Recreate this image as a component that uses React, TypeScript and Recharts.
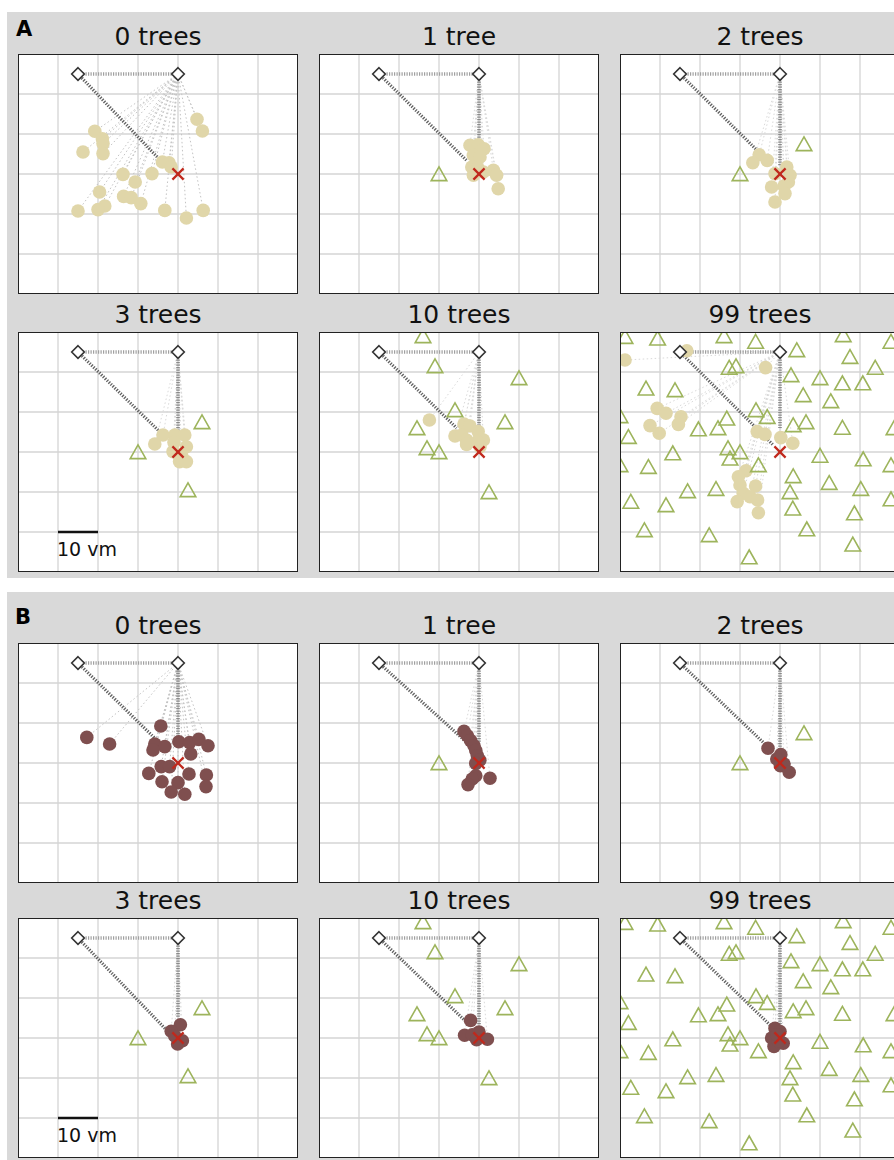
import React from 'react';
import { ScatterChart, Scatter, XAxis, YAxis, CartesianGrid, ReferenceLine } from 'recharts';

type P = [number, number];

// Common landmarks (vm units, y measured downward)
const startPt: P = [15, 5];
const turnPt: P = [40, 5];
const goalPt: P = [40, 30];
const xTicks = [10, 20, 30, 40, 50, 60];
const yTicks = [10, 20, 30, 40, 50];
const scaleBar: P[] = [[10, 50], [20, 50]];

// Trees (triangles) per condition
const trees1: P[] = [[30, 30]];
const trees2: P[] = [[30, 30], [46, 22.5]];
const trees3: P[] = [[30, 30], [46, 22.5], [42.5, 39.5]];
const trees10: P[] = [[26, 1], [29, 8.5], [50, 11.5], [34, 19.5], [46.5, 22.5], [24.5, 24], [27, 29], [30, 30], [42.5, 40]];
const trees99: P[] = [
  [1.25, 1.2], [9.4, 1.6], [26, 1], [33.9, 2.4], [44.2, 4.5], [55.8, 0.75], [67.75, 2.4], [57.5, 6.2],
  [27.3, 8.9], [29, 8.5], [42.75, 10.75], [50, 11.5], [55.6, 12.8], [60.7, 12.8], [63.8, 8.9], [6.5, 14.1],
  [13.75, 14.5], [45.8, 15.75], [52.7, 17.25], [0, 21], [2.1, 26.2], [19.6, 24.3], [24.5, 24], [26.7, 21.6],
  [34, 19.5], [36.8, 21.2], [43.3, 23.25], [46.5, 22.5], [55.6, 23.9], [13.2, 30.3], [7.1, 33.7], [0, 33.25],
  [27, 29], [30, 30], [27.5, 31.6], [34.6, 33.25], [50, 30.9], [60.8, 31.8], [67.75, 33.25], [43.3, 36],
  [52.3, 37.7], [42.5, 40], [60.2, 39.2], [67.75, 41.8], [16.9, 39.75], [24, 39.2], [2.7, 42.4], [11.5, 43.25],
  [43.2, 44.1], [58.6, 45.3], [6.1, 49.5], [22.3, 50.75], [46.7, 49.3], [58.2, 53.1], [32.3, 56.3], [68.5, 24],
];

// Endpoints (circles), model A
const endA0: P[] = [[44.75, 16.3], [46.1, 19.25], [19.2, 19.3], [21.1, 21.2], [21.25, 22.4], [16.25, 24.5], [21.25, 24.9], [36.1, 27], [37.75, 27.2], [38.3, 28.25], [33.5, 29.9], [26.25, 30.1], [29.3, 32], [20.4, 34.5], [26.4, 35.6], [28.3, 35.9], [30.7, 37.4], [21.7, 38], [20, 38.9], [15, 39.25], [36.7, 39.1], [46.3, 39.1], [42.1, 41]];
const endA1: P[] = [[37.75, 22.8], [39.8, 22.7], [41.25, 23.7], [38.6, 25.3], [40.25, 25.75], [38.2, 28.25], [39.75, 28.5], [41.1, 29.5], [43.6, 29.1], [44.4, 30.3], [38.6, 30.3], [44.8, 33.7]];
const endA2: P[] = [[34.8, 25.2], [33.2, 27.2], [36.8, 26.6], [41.7, 28.25], [38.75, 29.9], [42.5, 30.3], [42.1, 32], [41, 33], [37.9, 33.25], [41.25, 34.9], [38.75, 37]];
const endA3: P[] = [[34.2, 28], [36.25, 25.75], [39.2, 25.75], [41.7, 25.75], [39, 27.6], [42.1, 28.7], [38.75, 29.9], [40.9, 30.75], [40.4, 32.4], [42.1, 32.4]];
const endA10: P[] = [[27.6, 22], [36.25, 23], [37.75, 23.5], [34, 26], [35.7, 25.75], [36.9, 27], [39.8, 24.9], [41.1, 27], [39.6, 27.4], [36.9, 28.1], [40.25, 28.7]];
const endA99: P[] = [[16.7, 4.7], [1.25, 7], [36.4, 8.9], [9.3, 19.1], [11.5, 20.3], [15.25, 21.2], [7.5, 23.4], [14.6, 23.1], [9.8, 25.3], [34.3, 24.9], [36.25, 25.6], [40.2, 26.4], [43.2, 27.8], [31.5, 34.7], [29.6, 36.2], [30, 38.25], [33.9, 38.5], [30.8, 40.3], [32.5, 41.2], [34.4, 42], [29.3, 42.4], [34.6, 45.2]];

// Endpoints (circles), model B
const endB0: P[] = [[35.7, 20.75], [17.2, 23.6], [22.9, 25.25], [34.2, 25.25], [36.7, 25.9], [33.75, 26.75], [40.2, 24.7], [42.9, 24.9], [45.2, 24.1], [47.5, 25.7], [43.2, 27.75], [35.8, 30.9], [37.9, 30.9], [32.7, 32.6], [42.75, 32.75], [47.1, 33], [36, 34.7], [40, 34.9], [47, 35.9], [38.3, 37.25], [41.7, 37.8]];
const endB1: P[] = [[36.25, 22.1], [37.1, 23.2], [37.9, 24.4], [38.75, 25.7], [39.2, 26.9], [39.6, 28.2], [40.2, 29.3], [39.2, 30.1], [39.2, 33.2], [38.3, 34], [37.25, 35.4], [42.75, 33.8]];
const endB2: P[] = [[37, 26.3], [40.2, 27.9], [39.2, 29], [41, 30.25], [40.1, 30.7], [42.3, 32.3]];
const endB3: P[] = [[40.6, 26.7], [38.3, 28.3], [39.2, 29.5], [41.1, 30.7], [39.9, 31.5]];
const endB10: P[] = [[37.9, 25.6], [36.4, 29.3], [38.3, 29.2], [40, 28.5], [39.4, 30.4], [42.1, 30.3]];
const endB99: P[] = [[38.75, 27.6], [40, 28.4], [37.9, 30], [40.8, 31.3], [38.5, 32.1], [39.6, 30.8], [39.2, 29.2]];

// Ends of the mean (heavy dotted) paths
const diagEndsA: P[] = [[36, 27], [36.9, 26.6], [34.2, 24], [35.8, 25.3], [34.4, 24], [38.3, 28.25]];
const vertEndsA: (P | null)[] = [null, [40, 25], [40, 28], [40, 25], [40, 24], [40, 24]];
const diagEndsB: P[] = [[34.2, 23.8], [38.3, 26.1], [36.7, 25.7], [37.5, 28.4], [36.75, 25.9], [37.5, 26.75]];
const vertEndsB: (P | null)[] = [[40, 25], [40, 25], [40, 27.8], [40, 25], [40, 26.75], [40, 26.75]];

const titles = ['0 trees', '1 tree', '2 trees', '3 trees', '10 trees', '99 trees'];
const treesByPanel = [[], trees1, trees2, trees3, trees10, trees99] as P[][];
const endsA = [endA0, endA1, endA2, endA3, endA10, endA99];
const endsB = [endB0, endB1, endB2, endB3, endB10, endB99];

const colLefts = [18, 319, 620];
const FONT = '"DejaVu Sans", sans-serif';
const toObj = (arr: P[]) => arr.map(([x, y]) => ({ x, y }));

const Circle = (color: string) => (p: any) => <circle cx={p.cx} cy={p.cy} r={6.8} fill={color} />;
const Tri = (p: any) => (
  <polygon points={`${p.cx},${p.cy - 7.2} ${p.cx + 7.8},${p.cy + 6.6} ${p.cx - 7.8},${p.cy + 6.6}`} fill="none" stroke="#9db45c" strokeWidth={1.6} />
);
const Diamond = (p: any) => (
  <polygon points={`${p.cx},${p.cy - 6.3} ${p.cx + 6.3},${p.cy} ${p.cx},${p.cy + 6.3} ${p.cx - 6.3},${p.cy}`} fill="white" stroke="#333" strokeWidth={1.6} />
);
const Cross = (p: any) => (
  <g stroke="#c0281c" strokeWidth={2.2}>
    <line x1={p.cx - 5.6} y1={p.cy - 5.6} x2={p.cx + 5.6} y2={p.cy + 5.6} />
    <line x1={p.cx - 5.6} y1={p.cy + 5.6} x2={p.cx + 5.6} y2={p.cy - 5.6} />
  </g>
);

interface PanelProps {
  left: number; top: number; title: string; ends: P[]; color: string; trees: P[];
  diag: P; vert: P | null; scale: boolean; fan: boolean;
}

function Panel({ left, top, title, ends, color, trees, diag, vert, scale, fan }: PanelProps) {
  return (
    <>
      <div style={{ position: 'absolute', left, top: top - 32.5, width: 280, height: 30, lineHeight: '30px', fontSize: 25, fontFamily: FONT, textAlign: 'center', color: '#111' }}>{title}</div>
      <div style={{ position: 'absolute', left, top, width: 280, height: 240, overflow: 'hidden', background: 'white' }}>
        <ScatterChart width={280} height={240} margin={{ top: 0, right: 0, bottom: 0, left: 0 }}>
          <XAxis type="number" dataKey="x" domain={[0, 70]} ticks={xTicks} hide />
          <YAxis type="number" dataKey="y" domain={[0, 60]} ticks={yTicks} reversed hide />
          <CartesianGrid stroke="#d4d4d4" strokeWidth={1.3} />
          {ends.map(([x, y], i) => (
            <ReferenceLine key={'l' + i} segment={[{ x: turnPt[0], y: turnPt[1] }, { x, y }]} stroke={fan ? '#c4c4c4' : '#dadada'} strokeWidth={1} strokeDasharray="1.5 2.5" />
          ))}
          <ReferenceLine segment={[{ x: startPt[0], y: startPt[1] }, { x: turnPt[0], y: turnPt[1] }]} stroke="#a0a0a0" strokeWidth={3.6} strokeDasharray="1.2 1.3" />
          <ReferenceLine segment={[{ x: startPt[0], y: startPt[1] }, { x: diag[0], y: diag[1] }]} stroke="#606060" strokeWidth={3.2} strokeDasharray="1.3 1.4" />
          {vert && (
            <ReferenceLine segment={[{ x: turnPt[0], y: turnPt[1] }, { x: vert[0], y: vert[1] }]} stroke="#8a8a8a" strokeWidth={3.6} strokeDasharray="1.2 1.3" />
          )}
          {scale && (
            <ReferenceLine segment={[{ x: scaleBar[0][0], y: scaleBar[0][1] }, { x: scaleBar[1][0], y: scaleBar[1][1] }]} stroke="#111" strokeWidth={2.5} />
          )}
          <Scatter data={toObj(ends)} shape={Circle(color)} isAnimationActive={false} />
          <Scatter data={toObj(trees)} shape={Tri} isAnimationActive={false} />
          <Scatter data={toObj([startPt, turnPt])} shape={Diamond} isAnimationActive={false} />
          <Scatter data={toObj([goalPt])} shape={Cross} isAnimationActive={false} />
        </ScatterChart>
        {scale && (
          <div style={{ position: 'absolute', left: 39, top: 207, fontSize: 19, lineHeight: '20px', fontFamily: FONT, color: '#111' }}>10 vm</div>
        )}
        <div style={{ position: 'absolute', left: 0, top: 0, width: 280, height: 240, boxSizing: 'border-box', border: '1.6px solid #222', pointerEvents: 'none' }} />
      </div>
    </>
  );
}

export default function App() {
  const rowsA = [54, 332];
  const rowsB = [643, 918];
  return (
    <div style={{ position: 'fixed', left: 0, top: 0, width: 894, height: 1160, overflow: 'hidden', background: 'white' }}>
      <div style={{ position: 'absolute', left: 7, top: 12, width: 900, height: 566, background: '#d9d9d9' }} />
      <div style={{ position: 'absolute', left: 7, top: 592, width: 900, height: 580, background: '#d9d9d9' }} />
      <div style={{ position: 'absolute', left: 16, top: 17.5, fontSize: 21, lineHeight: '22px', fontWeight: 'bold', fontFamily: FONT }}>A</div>
      <div style={{ position: 'absolute', left: 15, top: 605.5, fontSize: 21, lineHeight: '22px', fontWeight: 'bold', fontFamily: FONT }}>B</div>
      {titles.map((t, i) => (
        <Panel key={'A' + i} left={colLefts[i % 3]} top={rowsA[Math.floor(i / 3)]} title={t} ends={endsA[i]} color="#e0d6a9" trees={treesByPanel[i]} diag={diagEndsA[i]} vert={vertEndsA[i]} scale={i === 3} fan={i === 0} />
      ))}
      {titles.map((t, i) => (
        <Panel key={'B' + i} left={colLefts[i % 3]} top={rowsB[Math.floor(i / 3)]} title={t} ends={endsB[i]} color="#7f4f4f" trees={treesByPanel[i]} diag={diagEndsB[i]} vert={vertEndsB[i]} scale={i === 3} fan={i === 0} />
      ))}
    </div>
  );
}
